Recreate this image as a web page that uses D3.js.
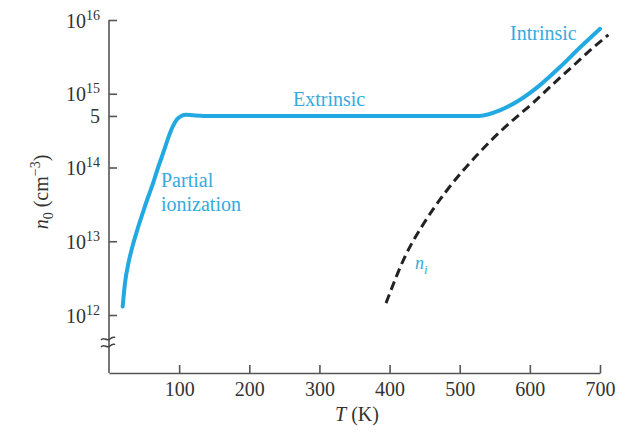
<!DOCTYPE html>
<html lang="en">
<head>
    <meta charset="UTF-8">
    <title>Electron concentration vs temperature</title>
    <style>
        body { margin: 0; background: #fff; }
        svg text { font-family: "Liberation Serif", "DejaVu Serif", serif; }
    </style>
    <script src="https://d3js.org/d3.v7.min.js"></script>
</head>
<body>
<div id="chart"></div>
<script>
    // n0 curve (blue)
    var tempN0 = [19.5, 23, 28, 34, 41, 48, 55, 62, 70, 78, 85, 91, 97, 103, 110, 120, 135, 200, 300, 400, 500, 528, 558, 586, 614, 643, 671, 700];
    var n0 = [1.3e12, 2.8e12, 5.2e12, 8.9e12, 1.5e13, 2.4e13, 3.8e13, 5.8e13, 1.0e14, 1.65e14, 2.6e14, 3.6e14, 4.5e14, 5.0e14, 5.2e14, 5.1e14, 5.0e14, 5.0e14, 5.0e14, 5.0e14, 5.0e14, 5.0e14, 6.0e14, 8.3e14, 1.3e15, 2.3e15, 4.2e15, 7.6e15];

    // intrinsic concentration ni (dashed)
    var tempNi = [395, 422, 448, 481, 524, 548, 576, 605, 633, 662, 690, 712];
    var ni = [1.45e12, 6.2e12, 1.7e13, 4.8e13, 1.45e14, 2.5e14, 4.4e14, 7.6e14, 1.35e15, 2.4e15, 4.2e15, 6.3e15];

    var xTicks = [100, 200, 300, 400, 500, 600, 700];
    var yTicks = [1e12, 1e13, 1e14, 5e14, 1e15, 1e16];

    var width = 631, height = 433;
    var blue = "#23a9e1";
    var textBlue = "#35aade";

    var svg = d3.select("#chart").append("svg")
        .attr("width", width)
        .attr("height", height);

    // scales
    var x = d3.scaleLinear().domain([0, 700]).range([109, 600]);
    var y = d3.scaleLog().domain([1e12, 1e16]).range([315, 20]);
    var axisY = 373;

    // x axis, ticks pointing up
    var xAxis = svg.append("g")
        .attr("transform", "translate(0," + axisY + ")")
        .call(d3.axisBottom(x).tickValues(xTicks).tickSizeInner(-8).tickSizeOuter(0).tickPadding(9));
    xAxis.select(".domain").attr("stroke", "#555").attr("stroke-width", 1.6);
    xAxis.selectAll(".tick line").attr("stroke", "#555").attr("stroke-width", 1.6);
    xAxis.selectAll(".tick text")
        .attr("font-size", 20)
        .attr("fill", "#333")
        .style("font-family", "Liberation Serif");

    // y axis, ticks pointing right
    var yAxis = svg.append("g")
        .attr("transform", "translate(109,0)")
        .call(d3.axisLeft(y).tickValues(yTicks).tickSizeInner(-8).tickSizeOuter(0).tickFormat(""));
    yAxis.select(".domain").remove();
    yAxis.selectAll(".tick line").attr("stroke", "#555").attr("stroke-width", 1.6);

    svg.append("line")
        .attr("x1", 109).attr("x2", 109)
        .attr("y1", y(1e16)).attr("y2", axisY)
        .attr("stroke", "#555").attr("stroke-width", 1.6);

    // y tick labels 10^n and the 5
    yAxis.selectAll(".tick").each(function (d) {
        var g = d3.select(this);
        var t = g.append("text")
            .attr("x", -9)
            .attr("y", 7)
            .attr("text-anchor", "end")
            .attr("fill", "#333")
            .attr("font-size", 20);
        var e = Math.round(Math.log10(d));
        if (Math.abs(d - Math.pow(10, e)) < 1) {
            t.append("tspan").text("10");
            t.append("tspan").attr("dy", -8).attr("font-size", 14).text(e);
        } else {
            t.text(Math.round(d / Math.pow(10, Math.floor(Math.log10(d)))));
        }
    });

    // axis break mark
    var brk = svg.append("g").attr("fill", "none").attr("stroke", "#444").attr("stroke-width", 1.5);
    [339, 346].forEach(function (yy) {
        brk.append("path")
            .attr("d", "M101," + (yy + 1) + " C104," + (yy - 3) + " 107," + (yy + 3) + " 110," + yy + " S114," + (yy - 1) + " 115," + (yy - 2));
    });

    // axis titles
    svg.append("text")
        .attr("x", 357)
        .attr("y", 421)
        .attr("text-anchor", "middle")
        .attr("font-size", 20)
        .attr("fill", "#333")
        .html('<tspan font-style="italic">T</tspan> (K)');

    var yl = svg.append("text")
        .attr("transform", "translate(48,192) rotate(-90)")
        .attr("text-anchor", "middle")
        .attr("font-size", 20)
        .attr("fill", "#333");
    yl.append("tspan").attr("font-style", "italic").text("n");
    yl.append("tspan").attr("dy", 5).attr("font-size", 14).text("0");
    yl.append("tspan").attr("dy", -5).text(" (cm");
    yl.append("tspan").attr("dy", -8).attr("font-size", 14).text("\u22123");
    yl.append("tspan").attr("dy", 8).text(")");

    // curves
    var line = d3.line()
        .x(function (d) { return x(d[0]); })
        .y(function (d) { return y(d[1]); })
        .curve(d3.curveMonotoneX);

    svg.append("path")
        .datum(d3.zip(tempNi, ni))
        .attr("d", line)
        .attr("fill", "none")
        .attr("stroke", "#222")
        .attr("stroke-width", 3)
        .attr("stroke-dasharray", "9,5");

    svg.append("path")
        .datum(d3.zip(tempN0, n0))
        .attr("d", line)
        .attr("fill", "none")
        .attr("stroke", blue)
        .attr("stroke-width", 4)
        .attr("stroke-linecap", "round");

    // annotations
    var notes = svg.append("g").attr("fill", textBlue).attr("font-size", 20);
    notes.append("text").attr("x", 510).attr("y", 40).text("Intrinsic");
    notes.append("text").attr("x", 293).attr("y", 106).text("Extrinsic");
    notes.append("text").attr("x", 161).attr("y", 187).text("Partial");
    notes.append("text").attr("x", 161).attr("y", 211).text("ionization");
    var nLab = notes.append("text").attr("x", 415).attr("y", 269).attr("font-size", 18);
    nLab.append("tspan").attr("font-style", "italic").text("n");
    nLab.append("tspan").attr("font-style", "italic").attr("dy", 5).attr("font-size", 13).text("i");
</script>
</body>
</html>
